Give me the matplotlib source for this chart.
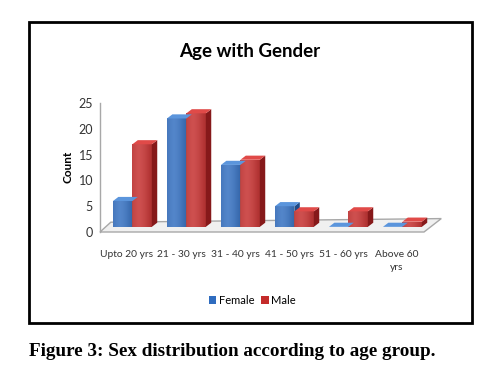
import numpy as np
import matplotlib
matplotlib.use("Agg")
import matplotlib.pyplot as plt
from matplotlib.patches import Polygon, Rectangle

# --- data ---
categories = ["Upto 20 yrs", "21 - 30 yrs", "31 - 40 yrs", "41 - 50 yrs", "51 - 60 yrs", "Above 60\nyrs"]
female = [5, 21, 12, 4, 0, 0]
male = [16, 22, 13, 3, 3, 1]
y_ticks = [0, 5, 10, 15, 20, 25]

# colours: front, top, side
blue = ("#2f6cbf", "#5b95dc", "#1f4b8a")
red = ("#c42b2a", "#e04a48", "#86191a")

W, H = 497, 378
fig = plt.figure(figsize=(W / 100, H / 100), dpi=100)
ax = fig.add_axes([100 / W, (H - 232) / H, 324 / W, 129 / H])
ax.set_xlim(-0.5, 5.5)
ax.set_ylim(0, 25)

bar_w = 0.36
dx, dy = 0.1, 0.8   # fake 3d depth
base = 1.0          # bars stand in the middle of the floor


def draw_bar(left, value, cols):
    front, top, side = cols
    b, t = base, base + value
    if value > 0:
        rect = Rectangle((left, b), bar_w, value, facecolor=front, edgecolor="none", zorder=3)
        ax.add_patch(rect)
        # light shading on front face
        grad = np.linspace(0.0, 1.0, 50).reshape(1, -1)
        grad = 1 - np.abs(grad - 0.35) * 1.2
        im = ax.imshow(grad, extent=[left, left + bar_w, b, t], aspect="auto",
                       cmap="Greys_r", alpha=0.18, zorder=3.5, vmin=0, vmax=1)
        im.set_clip_path(rect)
        ax.add_patch(Polygon([(left + bar_w, b), (left + bar_w + dx, b + dy),
                              (left + bar_w + dx, t + dy), (left + bar_w, t)],
                             closed=True, facecolor=side, edgecolor="none", zorder=3, clip_on=False))
    ax.add_patch(Polygon([(left, t), (left + bar_w, t), (left + bar_w + dx, t + dy), (left + dx, t + dy)],
                         closed=True, facecolor=top, edgecolor="none", zorder=4, clip_on=False))


# floor
floor = Polygon([(-0.5, 0), (5.5, 0), (5.82, 2.6), (-0.3, 1.9)], closed=True,
                facecolor="#f0f0f0", edgecolor="#a8a8a8", linewidth=1.0, zorder=1, clip_on=False)
ax.add_patch(floor)

x = np.arange(len(categories))
for i in x:
    draw_bar(i - 0.26, female[i], blue)
    draw_bar(i + 0.10, male[i], red)

for s in ["top", "right", "bottom"]:
    ax.spines[s].set_visible(False)
ax.spines["left"].set_color("#a8a8a8")
ax.spines["left"].set_linewidth(1.0)

ax.set_yticks(y_ticks)
ax.set_yticklabels([str(v) for v in y_ticks], fontsize=9, family="Lato", color="#333333")
ax.tick_params(axis="y", length=0, pad=5)
ax.set_xticks(x)
ax.set_xticklabels(categories, fontsize=7.4, family="Lato", color="#333333", linespacing=1.6)
ax.tick_params(axis="x", length=0, pad=13)
for lbl in ax.get_xticklabels():
    lbl.set_verticalalignment("top")

fig.text(68 / W, 1 - 167 / H, "Count", rotation=90, ha="center", va="center",
         fontsize=8.5, fontweight="bold", family="Lato")
fig.text(250 / W, 1 - 51 / H, "Age with Gender", ha="center", va="center",
         fontsize=13.5, fontweight="bold", family="Lato")

# legend
handles = [Rectangle((0, 0), 1, 1, facecolor=blue[0]), Rectangle((0, 0), 1, 1, facecolor=red[0])]
fig.legend(handles, ["Female", "Male"], loc="center", bbox_to_anchor=(252 / W, 1 - 300 / H),
           ncol=2, frameon=False, prop={"family": "Lato", "size": 8},
           handlelength=0.7, handleheight=0.7, handletextpad=0.2, columnspacing=0.6)

# outer frame
fig.patches.append(Rectangle((29 / W, 1 - 323 / H), 443 / W, 301 / H, transform=fig.transFigure,
                             fill=False, edgecolor="black", linewidth=2))

fig.text(29 / W, 1 - 351 / H, "Figure 3: Sex distribution according to age group.",
         ha="left", va="center", fontsize=13.8, fontweight="bold", family="Liberation Serif")

fig.savefig("out.png", dpi=100)
